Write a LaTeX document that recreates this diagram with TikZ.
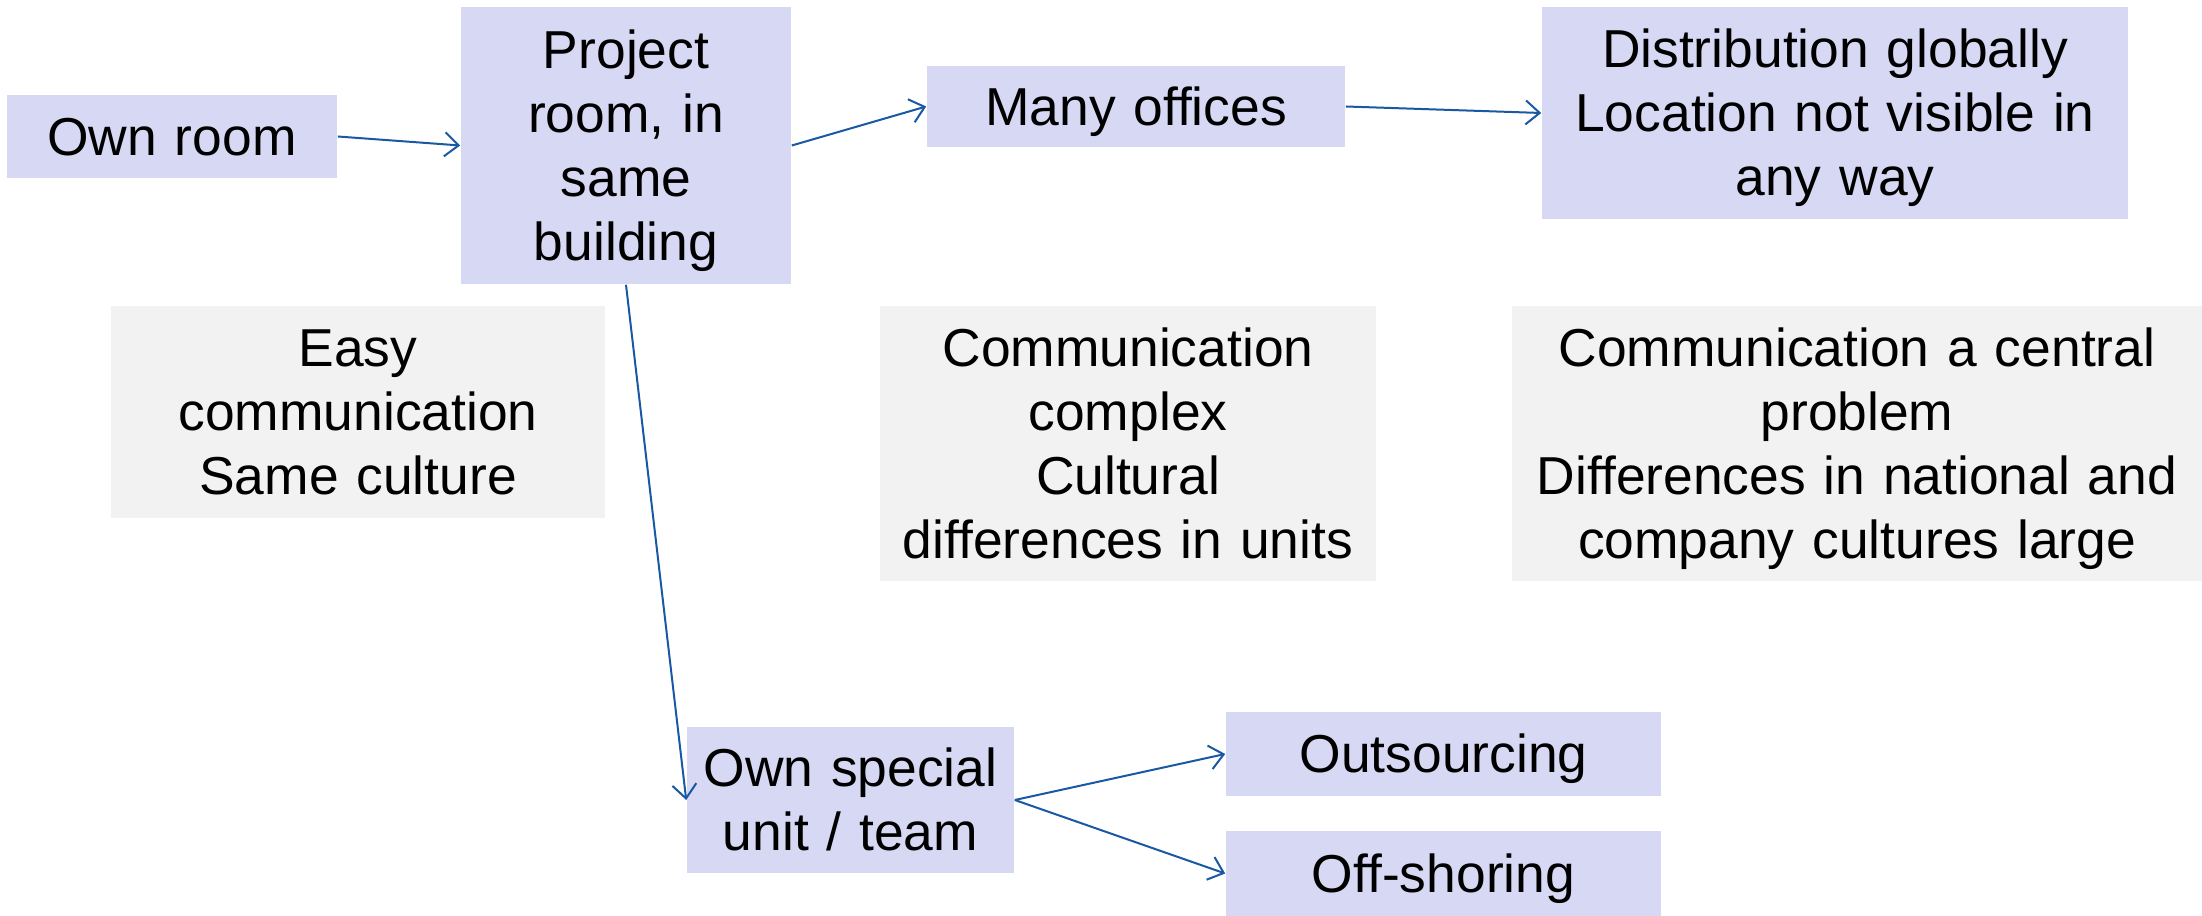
\documentclass[tikz,border=0pt]{standalone}
\usepackage{fontspec}
\setmainfont{Liberation Sans}
\usepackage{tikz}
\usetikzlibrary{arrows.meta,positioning}

\definecolor{boxfill}{RGB}{214,216,244}
\definecolor{notefill}{RGB}{242,242,242}
\definecolor{linkblue}{RGB}{25,88,162}

\tikzset{
  txt/.style 2 args={inner sep=0pt,align=center,font=\fontsize{13.35}{16}\selectfont,
    text width=#1*0.25pt,minimum width=#1*0.25pt,minimum height=#2*0.25pt,
    execute at begin node={\rule{0pt}{12.5pt}},
    execute at end node={\rule[-3pt]{0pt}{3pt}}},
  box/.style 2 args={txt={#1}{#2},fill=boxfill},
  note/.style 2 args={txt={#1}{#2},fill=notefill},
  link/.style={draw=linkblue,line width=0.5pt,-{Straight Barb[length=3.5pt,width=6pt]}}
}

\begin{document}
\begin{tikzpicture}[x=0.25pt,y=-0.25pt]
  \useasboundingbox (0,0) rectangle (2202,916);
  % upper chain
  \node[box={330}{83}] (own) at (172,136.5) {Own room};
  \node[box={330}{277}] (proj) at (626,145.5) {Project\\room, in\\same\\building};
  \node[box={418}{81}] (many) at (1136,106.5) {Many offices};
  \node[box={586}{212}] (dist) at (1835,113) {Distribution globally\\Location not visible in\\any way};
  % notes
  \node[note={494}{212}] (easy) at (358,412) {Easy\\communication\\Same culture};
  \node[note={496}{275}] (cplx) at (1128,443.5) {Communication\\complex\\Cultural\\differences in units};
  \node[note={690}{275}] (cent) at (1857,443.5) {Communication a central\\problem\\Differences in national and\\company cultures large};
  % lower branch
  \node[box={327}{146}] (spec) at (850.5,800) {Own special\\unit / team};
  \node[box={435}{84}] (outs) at (1443.5,754) {Outsourcing};
  \node[box={435}{85}] (offs) at (1443.5,873.5) {Off-shoring};
  % connectors
  \draw[link] (own.east) -- (proj.west);
  \draw[link] (proj.east) -- (many.west);
  \draw[link] (many.east) -- (dist.west);
  \draw[link] (proj.south) -- (spec.west);
  \draw[link] (spec.east) -- (outs.west);
  \draw[link] (spec.east) -- (offs.west);
\end{tikzpicture}
\end{document}
